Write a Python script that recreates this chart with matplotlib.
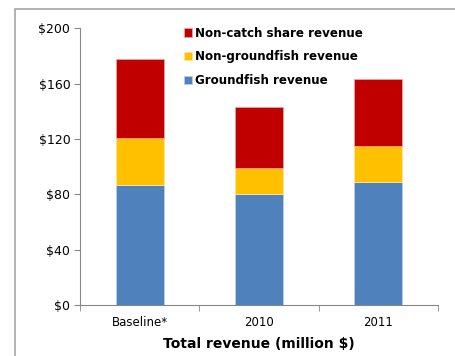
import matplotlib.pyplot as plt
from matplotlib.patches import Rectangle

categories = ["Baseline*", "2010", "2011"]
groundfish = [87, 80, 89]
non_groundfish = [34, 19, 26]
non_catch_share = [57, 44, 48]
yticks = [0, 40, 80, 120, 160, 200]

plt.rcParams['font.family'] = ['Verdana', 'DejaVu Sans']

fig = plt.figure(figsize=(4.55, 3.56), dpi=100)
ax = fig.add_axes([80 / 455, 1 - 305 / 356, 358 / 455, (305 - 28.3) / 356])

# outer chart border (top and left edges only show)
fig.patches.append(Rectangle((15 / 455, -0.1), 1.2, 1 - 9 / 356 + 0.1,
                             transform=fig.transFigure, fill=False,
                             edgecolor='#a6a6a6', linewidth=1.2))

x = list(range(len(categories)))
w = 0.4
b1 = ax.bar(x, groundfish, w, color='#4f81bd', edgecolor='#b9cde5', linewidth=0.6,
            label='Groundfish revenue')
bottom2 = groundfish
b2 = ax.bar(x, non_groundfish, w, bottom=bottom2, color='#ffc000', edgecolor='#ffe699',
            linewidth=0.6, label='Non-groundfish revenue')
bottom3 = [g + n for g, n in zip(groundfish, non_groundfish)]
b3 = ax.bar(x, non_catch_share, w, bottom=bottom3, color='#c00000', edgecolor='#f2a0a0',
            linewidth=0.6, label='Non-catch share revenue')

ax.set_xlim(-0.5, 2.5)
ax.set_ylim(0, 200)
ax.set_yticks(yticks)
ax.set_yticklabels(['$' + str(v) for v in yticks])
ax.set_xticks(x)
ax.set_xticklabels(categories)
ax.set_xticks([-0.5, 0.5, 1.5, 2.5], minor=True)
ax.tick_params(axis='x', which='major', length=0, labelsize=8.5, pad=8)
ax.tick_params(axis='x', which='minor', length=4, color='#868686', direction='out')
ax.tick_params(axis='y', length=4, color='#868686', labelsize=9, pad=3)

for s in ['top', 'right']:
    ax.spines[s].set_visible(False)
for s in ['left', 'bottom']:
    ax.spines[s].set_color('#868686')
    ax.spines[s].set_linewidth(0.8)

ax.set_xlabel('Total revenue (million $)', fontsize=10, fontweight='bold', labelpad=6)

leg = ax.legend(handles=[b3, b2, b1], loc='upper left', bbox_to_anchor=(0.26, 1.045),
                frameon=False, prop={'weight': 'bold', 'size': 8.6},
                handlelength=0.7, handleheight=0.7, handletextpad=0.25, labelspacing=0.9)

fig.savefig('out.png', dpi=100)
